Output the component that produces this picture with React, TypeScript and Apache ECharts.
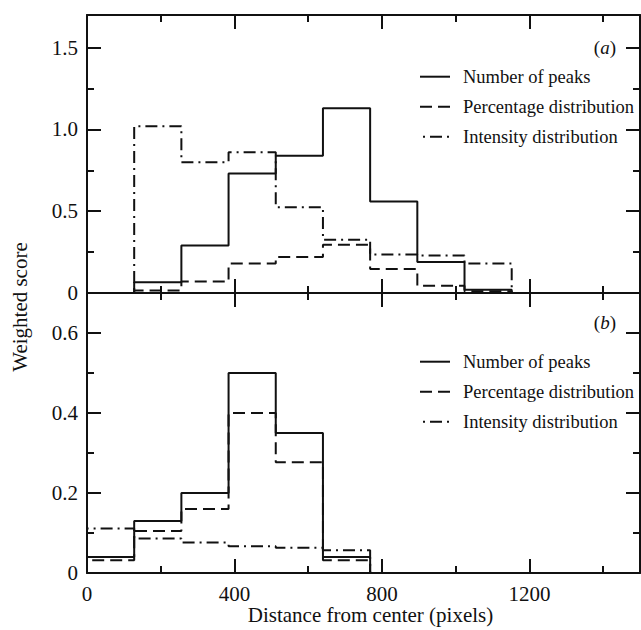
import React, { useEffect, useRef } from "react";
import * as echarts from "echarts";

const seriesNames = ["Number of peaks", "Percentage distribution", "Intensity distribution"];

// Panel (a): bin edges and heights
const topEdges = [128, 256, 384, 512, 640, 768, 896, 1024, 1152];
const topPeaks = [0.065, 0.29, 0.73, 0.84, 1.13, 0.56, 0.19, 0.02];
const topPercentage = [0.016, 0.07, 0.18, 0.22, 0.295, 0.147, 0.045, 0.01];
const topIntensity = [1.02, 0.8, 0.86, 0.525, 0.325, 0.235, 0.23, 0.18];

// Panel (b)
const bottomEdges = [0, 128, 256, 384, 512, 640, 768];
const bottomPeaks = [0.04, 0.13, 0.2, 0.5, 0.35, 0.04];
const bottomPercentage = [0.032, 0.105, 0.16, 0.4, 0.277, 0.032];
const bottomIntensity = [0.111, 0.086, 0.076, 0.067, 0.063, 0.057];

const xTickLabels = ["0", "400", "800", "1200"];
const topYTicks = ["0", "0.5", "1.0", "1.5"];
const bottomYTicks = ["0", "0.2", "0.4", "0.6"];

const FONT = "'Liberation Serif', 'Times New Roman', serif";
const INK = "#111";

function steps(edges: number[], vals: number[]) {
  const pts: number[][] = [[edges[0], 0]];
  vals.forEach((v, i) => pts.push([edges[i], v]));
  pts.push([edges[edges.length - 1], 0]);
  return pts;
}

const lineTypes: any[] = ["solid", [12, 6], [12, 5, 2, 5]];
const dashOffsets = [0, 0, 14];

function xAxesFor(gridIndex: number, labelled: boolean) {
  const base = { type: "value", gridIndex, min: 0, max: 1500, splitLine: { show: false } };
  const tickStyle = { color: INK, width: 2 };
  const mk = (position: string, major: boolean, withLabels: boolean) => ({
    ...base,
    position,
    interval: major ? 400 : 200,
    axisLine: { show: major, onZero: false, lineStyle: { color: INK, width: 2 } },
    axisTick: { show: true, inside: true, length: major ? 14 : 7, lineStyle: tickStyle },
    axisLabel: {
      show: withLabels,
      showMaxLabel: false,
      margin: 10,
      color: INK,
      fontFamily: FONT,
      fontSize: 21,
      formatter: (v: number) => xTickLabels[Math.round(v / 400)] ?? "",
    },
    ...(withLabels
      ? {
          name: "Distance from center (pixels)",
          nameLocation: "middle",
          nameGap: 29,
          nameTextStyle: { color: INK, fontFamily: FONT, fontSize: 21, padding: [0, 0, 0, 14] },
        }
      : {}),
  });
  return [mk("bottom", true, labelled), mk("bottom", false, false), mk("top", true, false), mk("top", false, false)];
}

function yAxesFor(gridIndex: number, max: number, major: number, minor: number, labels: string[]) {
  const tickStyle = { color: INK, width: 2 };
  const mk = (position: string, isMajor: boolean, withLabels: boolean) => ({
    type: "value",
    gridIndex,
    position,
    min: 0,
    max,
    interval: isMajor ? major : minor,
    splitLine: { show: false },
    axisLine: { show: isMajor, onZero: false, lineStyle: { color: INK, width: 2 } },
    axisTick: { show: true, inside: true, length: isMajor ? 14 : 7, lineStyle: tickStyle },
    axisLabel: {
      show: withLabels,
      showMaxLabel: false,
      margin: 9,
      color: INK,
      fontFamily: FONT,
      fontSize: 21,
      formatter: (v: number) => labels[Math.round(v / major)] ?? "",
    },
  });
  return [mk("left", true, true), mk("left", false, false), mk("right", true, false), mk("right", false, false)];
}

function seriesFor(xAxisIndex: number, yAxisIndex: number, edges: number[], sets: number[][]) {
  return sets.map((vals, i) => ({
    type: "line",
    name: seriesNames[i],
    xAxisIndex,
    yAxisIndex,
    step: "end",
    symbol: "none",
    silent: true,
    data: steps(edges, vals),
    lineStyle: { color: INK, width: 2, type: lineTypes[i], dashOffset: dashOffsets[i] },
    itemStyle: { color: INK },
    z: 3,
  }));
}

function legendAt(top: number) {
  return {
    data: seriesNames,
    orient: "vertical",
    left: 419,
    top,
    padding: 0,
    itemWidth: 30,
    itemHeight: 14,
    itemGap: 10,
    selectedMode: false,
    itemStyle: { opacity: 0 },
    textStyle: { color: INK, fontFamily: FONT, fontSize: 18.5, lineHeight: 20, padding: [0, 0, 0, 8] },
  };
}

function panelLabel(letter: string, y: number) {
  return {
    type: "text",
    x: 616,
    y,
    style: {
      text: "({i|" + letter + "})",
      fill: INK,
      fontFamily: FONT,
      fontSize: 19,
      align: "right",
      verticalAlign: "middle",
      rich: { i: { fontStyle: "italic", fontFamily: FONT, fontSize: 19, fill: INK } },
    },
  };
}

export default function App() {
  const ref = useRef<HTMLDivElement>(null);
  useEffect(() => {
    if (!ref.current) return;
    const chart = echarts.init(ref.current, undefined, { renderer: "svg" });
    chart.setOption({
      animation: false,
      backgroundColor: "#ffffff",
      grid: [
        { left: 87, top: 15, width: 553, height: 278 },
        { left: 87, top: 293, width: 553, height: 280 },
      ],
      xAxis: [...xAxesFor(0, false), ...xAxesFor(1, true)],
      yAxis: [
        ...yAxesFor(0, 1.7, 0.5, 0.25, topYTicks),
        ...yAxesFor(1, 0.7, 0.2, 0.1, bottomYTicks),
      ],
      legend: [legendAt(66.7), legendAt(351.7)],
      series: [
        ...seriesFor(0, 0, topEdges, [topPeaks, topPercentage, topIntensity]),
        ...seriesFor(4, 4, bottomEdges, [bottomPeaks, bottomPercentage, bottomIntensity]),
      ],
      graphic: [
        {
          type: "text",
          x: 20,
          y: 307,
          rotation: Math.PI / 2,
          style: {
            text: "Weighted score",
            fill: INK,
            fontFamily: FONT,
            fontSize: 21,
            align: "center",
            verticalAlign: "middle",
          },
        },
        panelLabel("a", 47),
        panelLabel("b", 322),
      ],
    });
    return () => chart.dispose();
  }, []);
  return (
    <div
      ref={ref}
      style={{ position: "fixed", left: 0, top: 0, width: 641, height: 630, background: "#fff" }}
    />
  );
}
